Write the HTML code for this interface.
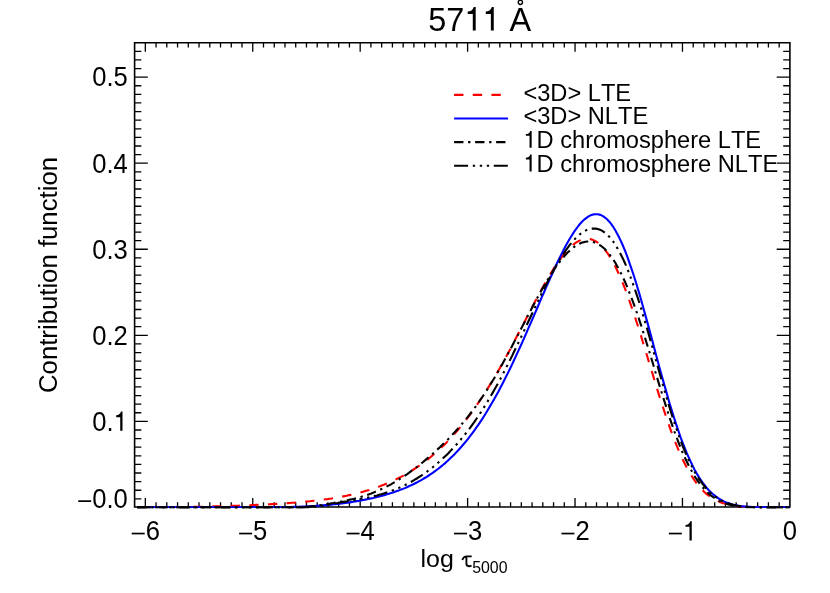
<!DOCTYPE html>
<html><head><meta charset="utf-8"><title>5711 A</title>
<style>
html,body{margin:0;padding:0;background:#fff;}
svg{display:block;will-change:transform;}
text{font-family:"Liberation Sans",sans-serif;fill:#000;font-kerning:none;}
</style></head><body>
<svg width="830" height="593" viewBox="0 0 830 593">
<rect width="830" height="593" fill="#fff"/>
<path d="M145.32 507.00v-9.00M145.32 42.80v9.00M156.06 507.00v-4.70M156.06 42.80v4.70M166.81 507.00v-4.70M166.81 42.80v4.70M177.55 507.00v-4.70M177.55 42.80v4.70M188.29 507.00v-4.70M188.29 42.80v4.70M199.03 507.00v-4.70M199.03 42.80v4.70M209.78 507.00v-4.70M209.78 42.80v4.70M220.52 507.00v-4.70M220.52 42.80v4.70M231.26 507.00v-4.70M231.26 42.80v4.70M242.01 507.00v-4.70M242.01 42.80v4.70M252.75 507.00v-9.00M252.75 42.80v9.00M263.49 507.00v-4.70M263.49 42.80v4.70M274.24 507.00v-4.70M274.24 42.80v4.70M284.98 507.00v-4.70M284.98 42.80v4.70M295.72 507.00v-4.70M295.72 42.80v4.70M306.46 507.00v-4.70M306.46 42.80v4.70M317.21 507.00v-4.70M317.21 42.80v4.70M327.95 507.00v-4.70M327.95 42.80v4.70M338.69 507.00v-4.70M338.69 42.80v4.70M349.44 507.00v-4.70M349.44 42.80v4.70M360.18 507.00v-9.00M360.18 42.80v9.00M370.92 507.00v-4.70M370.92 42.80v4.70M381.67 507.00v-4.70M381.67 42.80v4.70M392.41 507.00v-4.70M392.41 42.80v4.70M403.15 507.00v-4.70M403.15 42.80v4.70M413.89 507.00v-4.70M413.89 42.80v4.70M424.64 507.00v-4.70M424.64 42.80v4.70M435.38 507.00v-4.70M435.38 42.80v4.70M446.12 507.00v-4.70M446.12 42.80v4.70M456.87 507.00v-4.70M456.87 42.80v4.70M467.61 507.00v-9.00M467.61 42.80v9.00M478.35 507.00v-4.70M478.35 42.80v4.70M489.10 507.00v-4.70M489.10 42.80v4.70M499.84 507.00v-4.70M499.84 42.80v4.70M510.58 507.00v-4.70M510.58 42.80v4.70M521.32 507.00v-4.70M521.32 42.80v4.70M532.07 507.00v-4.70M532.07 42.80v4.70M542.81 507.00v-4.70M542.81 42.80v4.70M553.55 507.00v-4.70M553.55 42.80v4.70M564.30 507.00v-4.70M564.30 42.80v4.70M575.04 507.00v-9.00M575.04 42.80v9.00M585.78 507.00v-4.70M585.78 42.80v4.70M596.53 507.00v-4.70M596.53 42.80v4.70M607.27 507.00v-4.70M607.27 42.80v4.70M618.01 507.00v-4.70M618.01 42.80v4.70M628.75 507.00v-4.70M628.75 42.80v4.70M639.50 507.00v-4.70M639.50 42.80v4.70M650.24 507.00v-4.70M650.24 42.80v4.70M660.98 507.00v-4.70M660.98 42.80v4.70M671.73 507.00v-4.70M671.73 42.80v4.70M682.47 507.00v-9.00M682.47 42.80v9.00M693.21 507.00v-4.70M693.21 42.80v4.70M703.96 507.00v-4.70M703.96 42.80v4.70M714.70 507.00v-4.70M714.70 42.80v4.70M725.44 507.00v-4.70M725.44 42.80v4.70M736.18 507.00v-4.70M736.18 42.80v4.70M746.93 507.00v-4.70M746.93 42.80v4.70M757.67 507.00v-4.70M757.67 42.80v4.70M768.41 507.00v-4.70M768.41 42.80v4.70M779.16 507.00v-4.70M779.16 42.80v4.70M134.60 498.83h6.70M789.90 498.83h-6.70M134.60 490.23h6.70M789.90 490.23h-6.70M134.60 481.62h6.70M789.90 481.62h-6.70M134.60 473.02h6.70M789.90 473.02h-6.70M134.60 464.41h6.70M789.90 464.41h-6.70M134.60 455.80h6.70M789.90 455.80h-6.70M134.60 447.20h6.70M789.90 447.20h-6.70M134.60 438.59h6.70M789.90 438.59h-6.70M134.60 429.99h6.70M789.90 429.99h-6.70M134.60 421.38h13.20M789.90 421.38h-13.20M134.60 412.77h6.70M789.90 412.77h-6.70M134.60 404.17h6.70M789.90 404.17h-6.70M134.60 395.56h6.70M789.90 395.56h-6.70M134.60 386.96h6.70M789.90 386.96h-6.70M134.60 378.35h6.70M789.90 378.35h-6.70M134.60 369.74h6.70M789.90 369.74h-6.70M134.60 361.14h6.70M789.90 361.14h-6.70M134.60 352.53h6.70M789.90 352.53h-6.70M134.60 343.93h6.70M789.90 343.93h-6.70M134.60 335.32h13.20M789.90 335.32h-13.20M134.60 326.71h6.70M789.90 326.71h-6.70M134.60 318.11h6.70M789.90 318.11h-6.70M134.60 309.50h6.70M789.90 309.50h-6.70M134.60 300.90h6.70M789.90 300.90h-6.70M134.60 292.29h6.70M789.90 292.29h-6.70M134.60 283.68h6.70M789.90 283.68h-6.70M134.60 275.08h6.70M789.90 275.08h-6.70M134.60 266.47h6.70M789.90 266.47h-6.70M134.60 257.87h6.70M789.90 257.87h-6.70M134.60 249.26h13.20M789.90 249.26h-13.20M134.60 240.65h6.70M789.90 240.65h-6.70M134.60 232.05h6.70M789.90 232.05h-6.70M134.60 223.44h6.70M789.90 223.44h-6.70M134.60 214.84h6.70M789.90 214.84h-6.70M134.60 206.23h6.70M789.90 206.23h-6.70M134.60 197.62h6.70M789.90 197.62h-6.70M134.60 189.02h6.70M789.90 189.02h-6.70M134.60 180.41h6.70M789.90 180.41h-6.70M134.60 171.81h6.70M789.90 171.81h-6.70M134.60 163.20h13.20M789.90 163.20h-13.20M134.60 154.59h6.70M789.90 154.59h-6.70M134.60 145.99h6.70M789.90 145.99h-6.70M134.60 137.38h6.70M789.90 137.38h-6.70M134.60 128.78h6.70M789.90 128.78h-6.70M134.60 120.17h6.70M789.90 120.17h-6.70M134.60 111.56h6.70M789.90 111.56h-6.70M134.60 102.96h6.70M789.90 102.96h-6.70M134.60 94.35h6.70M789.90 94.35h-6.70M134.60 85.75h6.70M789.90 85.75h-6.70M134.60 77.14h13.20M789.90 77.14h-13.20M134.60 68.53h6.70M789.90 68.53h-6.70M134.60 59.93h6.70M789.90 59.93h-6.70M134.60 51.32h6.70M789.90 51.32h-6.70" fill="none" stroke="#000" stroke-width="1.30"/>
<path d="M134.60 42.80 H789.90 V507.00 H134.60 Z" fill="none" stroke="#000" stroke-width="1.60" stroke-linejoin="miter"/>
<clipPath id="c"><rect x="134.6" y="42.8" width="655.3" height="465.9"/></clipPath>
<clipPath id="c2"><rect x="134.6" y="42.8" width="655.3" height="465.2"/></clipPath>
<g clip-path="url(#c)" fill="none" stroke-width="2.10" stroke-linejoin="round">
<path clip-path="url(#c2)" d="M137.0 507.0 L139.0 507.1 L140.9 507.1 L142.9 507.1 L144.9 507.1 L146.9 507.2 L148.9 507.2 L150.9 507.2 L152.9 507.2 L154.8 507.2 L156.8 507.2 L158.8 507.2 L160.8 507.2 L162.8 507.2 L164.8 507.2 L166.7 507.1 L168.7 507.1 L170.7 507.1 L172.7 507.1 L174.7 507.1 L176.7 507.1 L178.7 507.1 L180.6 507.0 L182.6 507.0 L184.6 507.0 L186.6 507.0 L188.6 506.9 L190.6 506.9 L192.5 506.9 L194.5 506.8 L196.5 506.8 L198.5 506.8 L200.5 506.7 L202.5 506.7 L204.5 506.7 L206.4 506.6 L208.4 506.6 L210.4 506.5 L212.4 506.5 L214.4 506.4 L216.4 506.4 L218.3 506.3 L220.3 506.3 L222.3 506.2 L224.3 506.1 L226.3 506.1 L228.3 506.0 L230.3 505.9 L232.2 505.9 L234.2 505.8 L236.2 505.7 L238.2 505.7 L240.2 505.6 L242.2 505.5 L244.1 505.4 L246.1 505.4 L248.1 505.3 L250.1 505.2 L252.1 505.1 L254.1 505.0 L256.1 504.9 L258.0 504.8 L260.0 504.8 L262.0 504.7 L264.0 504.6 L266.0 504.5 L268.0 504.4 L269.9 504.2 L271.9 504.1 L273.9 504.0 L275.9 503.9 L277.9 503.8 L279.9 503.7 L281.9 503.5 L283.8 503.4 L285.8 503.3 L287.8 503.1 L289.8 503.0 L291.8 502.8 L293.8 502.7 L295.7 502.5 L297.7 502.4 L299.7 502.2 L301.7 502.0 L303.7 501.8 L305.7 501.6 L307.6 501.5 L309.6 501.3 L311.6 501.0 L313.6 500.8 L315.6 500.6 L317.6 500.4 L319.6 500.1 L321.5 499.9 L323.5 499.6 L325.5 499.3 L327.5 499.1 L329.5 498.8 L331.5 498.5 L333.4 498.1 L335.4 497.8 L337.4 497.5 L339.4 497.1 L341.4 496.8 L343.4 496.4 L345.4 496.0 L347.3 495.6 L349.3 495.1 L351.3 494.7 L353.3 494.3 L355.3 493.8 L357.3 493.3 L359.2 492.8 L361.2 492.3 L363.2 491.7 L365.2 491.1 L367.2 490.6 L369.2 490.0 L371.2 489.3 L373.1 488.7 L375.1 488.0 L377.1 487.3 L379.1 486.6 L381.1 485.8 L383.1 485.1 L385.0 484.3 L387.0 483.5 L389.0 482.6 L391.0 481.7 L393.0 480.8 L395.0 479.9 L397.0 478.9 L398.9 477.9 L400.9 476.9 L402.9 475.8 L404.9 474.7 L406.9 473.6 L408.9 472.4 L410.8 471.2 L412.8 470.0 L414.8 468.7 L416.8 467.4 L418.8 466.0 L420.8 464.6 L422.8 463.2 L424.7 461.7 L426.7 460.2 L428.7 458.6 L430.7 457.0 L432.7 455.3 L434.7 453.6 L436.6 451.9 L438.6 450.1 L440.6 448.2 L442.6 446.3 L444.6 444.4 L446.6 442.4 L448.6 440.3 L450.5 438.2 L452.5 436.1 L454.5 433.9 L456.5 431.6 L458.5 429.3 L460.5 426.9 L462.4 424.5 L464.4 422.0 L466.4 419.4 L468.4 416.8 L470.4 414.2 L472.4 411.4 L474.4 408.7 L476.3 405.8 L478.3 402.9 L480.3 400.0 L482.3 397.0 L484.3 393.9 L486.3 390.8 L488.2 387.6 L490.2 384.4 L492.2 381.1 L494.2 377.7 L496.2 374.4 L498.2 370.9 L500.2 367.4 L502.1 363.9 L504.1 360.3 L506.1 356.7 L508.1 353.1 L510.1 349.4 L512.1 345.6 L514.0 341.9 L516.0 338.1 L518.0 334.3 L520.0 330.5 L522.0 326.7 L524.0 322.9 L526.0 319.0 L527.9 315.2 L529.9 311.4 L531.9 307.6 L533.9 303.8 L535.9 300.0 L537.9 296.3 L539.8 292.6 L541.8 289.0 L543.8 285.4 L545.8 281.9 L547.8 278.4 L549.8 275.1 L551.8 271.8 L553.7 268.6 L555.7 265.5 L557.7 262.6 L559.7 259.8 L561.7 257.1 L563.7 254.5 L565.6 252.2 L567.6 249.9 L569.6 247.9 L571.6 246.0 L573.6 244.4 L575.6 242.9 L577.6 241.6 L579.5 240.6 L581.5 239.8 L583.5 239.2 L585.5 238.9 L587.5 238.8 L589.5 239.0 L591.4 239.4 L593.4 240.1 L595.4 241.1 L597.4 242.4 L599.4 243.9 L601.4 245.7 L603.4 247.9 L605.3 250.3 L607.3 252.9 L609.3 255.9 L611.3 259.1 L613.3 262.7 L615.3 266.5 L617.2 270.5 L619.2 274.8 L621.2 279.4 L623.2 284.2 L625.2 289.2 L627.2 294.5 L629.1 299.9 L631.1 305.6 L633.1 311.4 L635.1 317.4 L637.1 323.5 L639.1 329.7 L641.1 336.1 L643.0 342.5 L645.0 349.0 L647.0 355.5 L649.0 362.1 L651.0 368.7 L653.0 375.2 L654.9 381.7 L656.9 388.2 L658.9 394.6 L660.9 400.9 L662.9 407.0 L664.9 413.1 L666.9 419.0 L668.8 424.7 L670.8 430.3 L672.8 435.7 L674.8 440.9 L676.8 445.8 L678.8 450.6 L680.7 455.1 L682.7 459.5 L684.7 463.5 L686.7 467.4 L688.7 471.0 L690.7 474.4 L692.7 477.6 L694.6 480.5 L696.6 483.3 L698.6 485.8 L700.6 488.1 L702.6 490.2 L704.6 492.2 L706.5 493.9 L708.5 495.5 L710.5 497.0 L712.5 498.3 L714.5 499.4 L716.5 500.5 L718.5 501.4 L720.4 502.2 L722.4 502.9 L724.4 503.5 L726.4 504.1 L728.4 504.6 L730.4 505.0 L732.3 505.3 L734.3 505.7 L736.3 505.9 L738.3 506.2 L740.3 506.4 L742.3 506.5 L744.3 506.7 L746.2 506.8 L748.2 506.9 L750.2 507.0 L752.2 507.0 L754.2 507.1 L756.2 507.2 L758.1 507.2 L760.1 507.2 L762.1 507.3 L764.1 507.3 L766.1 507.3 L768.1 507.3 L770.1 507.3 L772.0 507.4 L774.0 507.4 L776.0 507.4 L778.0 507.4 L780.0 507.4 L782.0 507.4 L783.9 507.4 L785.9 507.4 L787.9 507.4 L789.9 507.4" stroke="#ff0000" stroke-dasharray="9.340 9.340" stroke-dashoffset="18.4"/>
<path clip-path="url(#c2)" d="M137.0 507.4 L139.0 507.4 L140.9 507.4 L142.9 507.4 L144.9 507.4 L146.9 507.4 L148.9 507.4 L150.9 507.4 L152.9 507.4 L154.8 507.4 L156.8 507.4 L158.8 507.4 L160.8 507.4 L162.8 507.4 L164.8 507.4 L166.7 507.4 L168.7 507.4 L170.7 507.4 L172.7 507.4 L174.7 507.4 L176.7 507.4 L178.7 507.4 L180.6 507.4 L182.6 507.4 L184.6 507.4 L186.6 507.4 L188.6 507.4 L190.6 507.4 L192.5 507.4 L194.5 507.4 L196.5 507.4 L198.5 507.4 L200.5 507.4 L202.5 507.4 L204.5 507.4 L206.4 507.4 L208.4 507.4 L210.4 507.4 L212.4 507.4 L214.4 507.4 L216.4 507.4 L218.3 507.4 L220.3 507.4 L222.3 507.4 L224.3 507.4 L226.3 507.4 L228.3 507.4 L230.3 507.4 L232.2 507.4 L234.2 507.4 L236.2 507.4 L238.2 507.4 L240.2 507.4 L242.2 507.4 L244.1 507.4 L246.1 507.4 L248.1 507.4 L250.1 507.4 L252.1 507.4 L254.1 507.4 L256.1 507.4 L258.0 507.4 L260.0 507.4 L262.0 507.4 L264.0 507.4 L266.0 507.4 L268.0 507.4 L269.9 507.3 L271.9 507.3 L273.9 507.3 L275.9 507.3 L277.9 507.3 L279.9 507.2 L281.9 507.2 L283.8 507.2 L285.8 507.1 L287.8 507.1 L289.8 507.0 L291.8 507.0 L293.8 506.9 L295.7 506.9 L297.7 506.8 L299.7 506.7 L301.7 506.6 L303.7 506.6 L305.7 506.5 L307.6 506.4 L309.6 506.3 L311.6 506.1 L313.6 506.0 L315.6 505.9 L317.6 505.7 L319.6 505.6 L321.5 505.5 L323.5 505.3 L325.5 505.1 L327.5 504.9 L329.5 504.8 L331.5 504.6 L333.4 504.3 L335.4 504.1 L337.4 503.9 L339.4 503.7 L341.4 503.4 L343.4 503.2 L345.4 502.9 L347.3 502.6 L349.3 502.4 L351.3 502.1 L353.3 501.8 L355.3 501.4 L357.3 501.1 L359.2 500.8 L361.2 500.4 L363.2 500.0 L365.2 499.6 L367.2 499.2 L369.2 498.8 L371.2 498.4 L373.1 498.0 L375.1 497.5 L377.1 497.0 L379.1 496.5 L381.1 496.0 L383.1 495.5 L385.0 494.9 L387.0 494.3 L389.0 493.7 L391.0 493.1 L393.0 492.5 L395.0 491.8 L397.0 491.1 L398.9 490.4 L400.9 489.6 L402.9 488.9 L404.9 488.1 L406.9 487.2 L408.9 486.3 L410.8 485.4 L412.8 484.5 L414.8 483.5 L416.8 482.5 L418.8 481.4 L420.8 480.3 L422.8 479.2 L424.7 478.0 L426.7 476.8 L428.7 475.5 L430.7 474.2 L432.7 472.9 L434.7 471.4 L436.6 470.0 L438.6 468.5 L440.6 466.9 L442.6 465.2 L444.6 463.6 L446.6 461.8 L448.6 460.0 L450.5 458.1 L452.5 456.2 L454.5 454.2 L456.5 452.1 L458.5 450.0 L460.5 447.8 L462.4 445.5 L464.4 443.2 L466.4 440.8 L468.4 438.3 L470.4 435.7 L472.4 433.1 L474.4 430.4 L476.3 427.6 L478.3 424.8 L480.3 421.8 L482.3 418.8 L484.3 415.7 L486.3 412.5 L488.2 409.3 L490.2 405.9 L492.2 402.5 L494.2 399.1 L496.2 395.5 L498.2 391.9 L500.2 388.1 L502.1 384.4 L504.1 380.5 L506.1 376.6 L508.1 372.6 L510.1 368.5 L512.1 364.4 L514.0 360.2 L516.0 355.9 L518.0 351.6 L520.0 347.3 L522.0 342.9 L524.0 338.4 L526.0 333.9 L527.9 329.4 L529.9 324.9 L531.9 320.3 L533.9 315.7 L535.9 311.1 L537.9 306.5 L539.8 301.8 L541.8 297.2 L543.8 292.7 L545.8 288.1 L547.8 283.6 L549.8 279.1 L551.8 274.7 L553.7 270.3 L555.7 266.0 L557.7 261.8 L559.7 257.7 L561.7 253.7 L563.7 249.8 L565.6 246.1 L567.6 242.5 L569.6 239.0 L571.6 235.7 L573.6 232.6 L575.6 229.7 L577.6 227.0 L579.5 224.5 L581.5 222.3 L583.5 220.3 L585.5 218.6 L587.5 217.1 L589.5 215.9 L591.4 215.0 L593.4 214.4 L595.4 214.2 L597.4 214.2 L599.4 214.6 L601.4 215.3 L603.4 216.4 L605.3 217.8 L607.3 219.5 L609.3 221.7 L611.3 224.1 L613.3 227.0 L615.3 230.2 L617.2 233.7 L619.2 237.6 L621.2 241.8 L623.2 246.3 L625.2 251.2 L627.2 256.4 L629.1 261.8 L631.1 267.6 L633.1 273.5 L635.1 279.8 L637.1 286.2 L639.1 292.9 L641.1 299.7 L643.0 306.7 L645.0 313.9 L647.0 321.1 L649.0 328.4 L651.0 335.8 L653.0 343.2 L654.9 350.6 L656.9 358.0 L658.9 365.4 L660.9 372.7 L662.9 379.9 L664.9 386.9 L666.9 393.9 L668.8 400.7 L670.8 407.4 L672.8 413.8 L674.8 420.1 L676.8 426.1 L678.8 432.0 L680.7 437.6 L682.7 442.9 L684.7 448.0 L686.7 452.9 L688.7 457.4 L690.7 461.8 L692.7 465.9 L694.6 469.7 L696.6 473.3 L698.6 476.6 L700.6 479.7 L702.6 482.6 L704.6 485.2 L706.5 487.7 L708.5 489.9 L710.5 491.9 L712.5 493.8 L714.5 495.4 L716.5 497.0 L718.5 498.3 L720.4 499.5 L722.4 500.6 L724.4 501.6 L726.4 502.4 L728.4 503.1 L730.4 503.8 L732.3 504.4 L734.3 504.9 L736.3 505.3 L738.3 505.7 L740.3 506.0 L742.3 506.2 L744.3 506.5 L746.2 506.6 L748.2 506.8 L750.2 506.9 L752.2 507.0 L754.2 507.1 L756.2 507.2 L758.1 507.2 L760.1 507.3 L762.1 507.3 L764.1 507.4 L766.1 507.4 L768.1 507.4 L770.1 507.4 L772.0 507.4 L774.0 507.4 L776.0 507.4 L778.0 507.4 L780.0 507.4 L782.0 507.4 L783.9 507.4 L785.9 507.4 L787.9 507.4 L789.9 507.4" stroke="#0000ff"/>
<path d="M137.0 507.4 L139.0 507.4 L140.9 507.4 L142.9 507.4 L144.9 507.4 L146.9 507.4 L148.9 507.4 L150.9 507.4 L152.9 507.4 L154.8 507.4 L156.8 507.4 L158.8 507.4 L160.8 507.4 L162.8 507.4 L164.8 507.4 L166.7 507.4 L168.7 507.4 L170.7 507.4 L172.7 507.4 L174.7 507.4 L176.7 507.4 L178.7 507.4 L180.6 507.4 L182.6 507.4 L184.6 507.4 L186.6 507.4 L188.6 507.4 L190.6 507.4 L192.5 507.4 L194.5 507.4 L196.5 507.4 L198.5 507.4 L200.5 507.4 L202.5 507.4 L204.5 507.4 L206.4 507.4 L208.4 507.4 L210.4 507.4 L212.4 507.4 L214.4 507.4 L216.4 507.4 L218.3 507.4 L220.3 507.4 L222.3 507.4 L224.3 507.4 L226.3 507.4 L228.3 507.4 L230.3 507.4 L232.2 507.4 L234.2 507.4 L236.2 507.4 L238.2 507.4 L240.2 507.4 L242.2 507.4 L244.1 507.4 L246.1 507.4 L248.1 507.4 L250.1 507.4 L252.1 507.4 L254.1 507.4 L256.1 507.4 L258.0 507.4 L260.0 507.4 L262.0 507.4 L264.0 507.4 L266.0 507.4 L268.0 507.4 L269.9 507.4 L271.9 507.4 L273.9 507.4 L275.9 507.4 L277.9 507.4 L279.9 507.4 L281.9 507.4 L283.8 507.4 L285.8 507.4 L287.8 507.4 L289.8 507.4 L291.8 507.4 L293.8 507.4 L295.7 507.4 L297.7 507.3 L299.7 507.3 L301.7 507.2 L303.7 507.1 L305.7 506.9 L307.6 506.8 L309.6 506.6 L311.6 506.4 L313.6 506.1 L315.6 505.9 L317.6 505.6 L319.6 505.3 L321.5 505.0 L323.5 504.7 L325.5 504.4 L327.5 504.0 L329.5 503.7 L331.5 503.3 L333.4 503.0 L335.4 502.6 L337.4 502.3 L339.4 501.9 L341.4 501.5 L343.4 501.1 L345.4 500.7 L347.3 500.3 L349.3 499.8 L351.3 499.4 L353.3 498.9 L355.3 498.4 L357.3 497.9 L359.2 497.3 L361.2 496.8 L363.2 496.2 L365.2 495.5 L367.2 494.9 L369.2 494.2 L371.2 493.5 L373.1 492.7 L375.1 491.9 L377.1 491.1 L379.1 490.2 L381.1 489.3 L383.1 488.4 L385.0 487.4 L387.0 486.4 L389.0 485.4 L391.0 484.3 L393.0 483.1 L395.0 482.0 L397.0 480.8 L398.9 479.5 L400.9 478.3 L402.9 477.0 L404.9 475.6 L406.9 474.3 L408.9 472.9 L410.8 471.4 L412.8 470.0 L414.8 468.5 L416.8 467.0 L418.8 465.4 L420.8 463.8 L422.8 462.2 L424.7 460.6 L426.7 458.9 L428.7 457.2 L430.7 455.5 L432.7 453.8 L434.7 452.0 L436.6 450.2 L438.6 448.4 L440.6 446.5 L442.6 444.6 L444.6 442.6 L446.6 440.7 L448.6 438.7 L450.5 436.6 L452.5 434.5 L454.5 432.4 L456.5 430.2 L458.5 428.0 L460.5 425.7 L462.4 423.4 L464.4 421.0 L466.4 418.6 L468.4 416.1 L470.4 413.5 L472.4 410.9 L474.4 408.3 L476.3 405.5 L478.3 402.7 L480.3 399.9 L482.3 397.0 L484.3 394.0 L486.3 391.0 L488.2 387.9 L490.2 384.7 L492.2 381.5 L494.2 378.2 L496.2 374.8 L498.2 371.4 L500.2 367.9 L502.1 364.4 L504.1 360.8 L506.1 357.2 L508.1 353.6 L510.1 349.9 L512.1 346.1 L514.0 342.3 L516.0 338.5 L518.0 334.7 L520.0 330.9 L522.0 327.1 L524.0 323.2 L526.0 319.4 L527.9 315.6 L529.9 311.8 L531.9 308.0 L533.9 304.2 L535.9 300.5 L537.9 296.8 L539.8 293.2 L541.8 289.7 L543.8 286.2 L545.8 282.8 L547.8 279.5 L549.8 276.3 L551.8 273.2 L553.7 270.1 L555.7 267.2 L557.7 264.5 L559.7 261.8 L561.7 259.3 L563.7 256.9 L565.6 254.7 L567.6 252.6 L569.6 250.7 L571.6 248.9 L573.6 247.3 L575.6 245.9 L577.6 244.7 L579.5 243.7 L581.5 242.8 L583.5 242.2 L585.5 241.8 L587.5 241.5 L589.5 241.5 L591.4 241.7 L593.4 242.1 L595.4 242.8 L597.4 243.7 L599.4 244.8 L601.4 246.2 L603.4 247.8 L605.3 249.6 L607.3 251.8 L609.3 254.1 L611.3 256.7 L613.3 259.6 L615.3 262.8 L617.2 266.2 L619.2 269.8 L621.2 273.7 L623.2 277.9 L625.2 282.3 L627.2 286.9 L629.1 291.8 L631.1 296.9 L633.1 302.2 L635.1 307.7 L637.1 313.4 L639.1 319.3 L641.1 325.3 L643.0 331.5 L645.0 337.8 L647.0 344.2 L649.0 350.7 L651.0 357.2 L653.0 363.8 L654.9 370.4 L656.9 377.0 L658.9 383.6 L660.9 390.1 L662.9 396.5 L664.9 402.9 L666.9 409.1 L668.8 415.2 L670.8 421.2 L672.8 426.9 L674.8 432.5 L676.8 437.9 L678.8 443.1 L680.7 448.0 L682.7 452.8 L684.7 457.3 L686.7 461.5 L688.7 465.5 L690.7 469.3 L692.7 472.9 L694.6 476.2 L696.6 479.3 L698.6 482.1 L700.6 484.8 L702.6 487.2 L704.6 489.5 L706.5 491.5 L708.5 493.4 L710.5 495.1 L712.5 496.6 L714.5 498.0 L716.5 499.3 L718.5 500.4 L720.4 501.4 L722.4 502.3 L724.4 503.1 L726.4 503.8 L728.4 504.4 L730.4 504.9 L732.3 505.4 L734.3 505.8 L736.3 506.1 L738.3 506.4 L740.3 506.6 L742.3 506.8 L744.3 506.9 L746.2 507.1 L748.2 507.2 L750.2 507.2 L752.2 507.3 L754.2 507.3 L756.2 507.4 L758.1 507.4 L760.1 507.4 L762.1 507.4 L764.1 507.4 L766.1 507.4 L768.1 507.4 L770.1 507.4 L772.0 507.4 L774.0 507.4 L776.0 507.4 L778.0 507.4 L780.0 507.4 L782.0 507.4 L783.9 507.4 L785.9 507.4 L787.9 507.4 L789.9 507.4" stroke="#000" stroke-dasharray="9.340 4.670 2.335 4.670" stroke-dashoffset="20.7"/>
<path d="M137.0 507.4 L139.0 507.4 L140.9 507.4 L142.9 507.4 L144.9 507.4 L146.9 507.4 L148.9 507.4 L150.9 507.4 L152.9 507.4 L154.8 507.4 L156.8 507.4 L158.8 507.4 L160.8 507.4 L162.8 507.4 L164.8 507.4 L166.7 507.4 L168.7 507.4 L170.7 507.4 L172.7 507.4 L174.7 507.4 L176.7 507.4 L178.7 507.4 L180.6 507.4 L182.6 507.4 L184.6 507.4 L186.6 507.4 L188.6 507.4 L190.6 507.4 L192.5 507.4 L194.5 507.4 L196.5 507.4 L198.5 507.4 L200.5 507.4 L202.5 507.4 L204.5 507.4 L206.4 507.4 L208.4 507.4 L210.4 507.4 L212.4 507.4 L214.4 507.4 L216.4 507.4 L218.3 507.4 L220.3 507.4 L222.3 507.4 L224.3 507.4 L226.3 507.4 L228.3 507.4 L230.3 507.4 L232.2 507.4 L234.2 507.4 L236.2 507.4 L238.2 507.4 L240.2 507.4 L242.2 507.4 L244.1 507.4 L246.1 507.4 L248.1 507.4 L250.1 507.4 L252.1 507.4 L254.1 507.4 L256.1 507.4 L258.0 507.4 L260.0 507.4 L262.0 507.4 L264.0 507.4 L266.0 507.4 L268.0 507.4 L269.9 507.4 L271.9 507.4 L273.9 507.4 L275.9 507.4 L277.9 507.4 L279.9 507.4 L281.9 507.4 L283.8 507.4 L285.8 507.4 L287.8 507.4 L289.8 507.4 L291.8 507.4 L293.8 507.4 L295.7 507.4 L297.7 507.4 L299.7 507.4 L301.7 507.4 L303.7 507.4 L305.7 507.3 L307.6 507.2 L309.6 507.1 L311.6 507.0 L313.6 506.8 L315.6 506.6 L317.6 506.4 L319.6 506.1 L321.5 505.8 L323.5 505.5 L325.5 505.2 L327.5 504.8 L329.5 504.4 L331.5 504.1 L333.4 503.7 L335.4 503.3 L337.4 503.0 L339.4 502.6 L341.4 502.3 L343.4 501.9 L345.4 501.6 L347.3 501.3 L349.3 500.9 L351.3 500.6 L353.3 500.2 L355.3 499.9 L357.3 499.6 L359.2 499.2 L361.2 498.8 L363.2 498.5 L365.2 498.1 L367.2 497.7 L369.2 497.2 L371.2 496.8 L373.1 496.3 L375.1 495.9 L377.1 495.4 L379.1 494.8 L381.1 494.3 L383.1 493.7 L385.0 493.1 L387.0 492.4 L389.0 491.8 L391.0 491.0 L393.0 490.3 L395.0 489.5 L397.0 488.7 L398.9 487.9 L400.9 487.0 L402.9 486.1 L404.9 485.1 L406.9 484.1 L408.9 483.1 L410.8 482.0 L412.8 480.9 L414.8 479.7 L416.8 478.5 L418.8 477.2 L420.8 476.0 L422.8 474.6 L424.7 473.2 L426.7 471.8 L428.7 470.3 L430.7 468.8 L432.7 467.3 L434.7 465.7 L436.6 464.0 L438.6 462.3 L440.6 460.5 L442.6 458.7 L444.6 456.8 L446.6 454.9 L448.6 453.0 L450.5 450.9 L452.5 448.8 L454.5 446.7 L456.5 444.5 L458.5 442.2 L460.5 439.9 L462.4 437.5 L464.4 435.1 L466.4 432.6 L468.4 430.0 L470.4 427.4 L472.4 424.6 L474.4 421.9 L476.3 419.0 L478.3 416.1 L480.3 413.1 L482.3 410.0 L484.3 406.9 L486.3 403.7 L488.2 400.4 L490.2 397.0 L492.2 393.6 L494.2 390.1 L496.2 386.6 L498.2 382.9 L500.2 379.2 L502.1 375.5 L504.1 371.7 L506.1 367.8 L508.1 363.9 L510.1 359.9 L512.1 355.9 L514.0 351.8 L516.0 347.7 L518.0 343.5 L520.0 339.4 L522.0 335.2 L524.0 330.9 L526.0 326.7 L527.9 322.5 L529.9 318.2 L531.9 314.0 L533.9 309.8 L535.9 305.6 L537.9 301.4 L539.8 297.3 L541.8 293.2 L543.8 289.2 L545.8 285.2 L547.8 281.3 L549.8 277.5 L551.8 273.8 L553.7 270.1 L555.7 266.6 L557.7 263.1 L559.7 259.8 L561.7 256.6 L563.7 253.5 L565.6 250.6 L567.6 247.8 L569.6 245.2 L571.6 242.7 L573.6 240.4 L575.6 238.3 L577.6 236.3 L579.5 234.6 L581.5 233.1 L583.5 231.7 L585.5 230.6 L587.5 229.7 L589.5 229.1 L591.4 228.7 L593.4 228.5 L595.4 228.6 L597.4 228.9 L599.4 229.5 L601.4 230.4 L603.4 231.6 L605.3 233.0 L607.3 234.8 L609.3 236.8 L611.3 239.1 L613.3 241.7 L615.3 244.7 L617.2 247.9 L619.2 251.4 L621.2 255.2 L623.2 259.3 L625.2 263.7 L627.2 268.4 L629.1 273.4 L631.1 278.6 L633.1 284.1 L635.1 289.8 L637.1 295.8 L639.1 302.0 L641.1 308.3 L643.0 314.9 L645.0 321.5 L647.0 328.4 L649.0 335.3 L651.0 342.3 L653.0 349.4 L654.9 356.5 L656.9 363.6 L658.9 370.7 L660.9 377.7 L662.9 384.7 L664.9 391.6 L666.9 398.4 L668.8 405.0 L670.8 411.5 L672.8 417.8 L674.8 423.8 L676.8 429.7 L678.8 435.4 L680.7 440.8 L682.7 446.0 L684.7 450.9 L686.7 455.6 L688.7 460.0 L690.7 464.1 L692.7 468.0 L694.6 471.7 L696.6 475.1 L698.6 478.3 L700.6 481.2 L702.6 483.9 L704.6 486.4 L706.5 488.7 L708.5 490.8 L710.5 492.7 L712.5 494.4 L714.5 496.0 L716.5 497.4 L718.5 498.7 L720.4 499.9 L722.4 500.9 L724.4 501.8 L726.4 502.6 L728.4 503.4 L730.4 504.0 L732.3 504.6 L734.3 505.0 L736.3 505.5 L738.3 505.8 L740.3 506.1 L742.3 506.4 L744.3 506.6 L746.2 506.8 L748.2 507.0 L750.2 507.1 L752.2 507.2 L754.2 507.2 L756.2 507.3 L758.1 507.3 L760.1 507.4 L762.1 507.4 L764.1 507.4 L766.1 507.4 L768.1 507.4 L770.1 507.4 L772.0 507.4 L774.0 507.4 L776.0 507.4 L778.0 507.4 L780.0 507.4 L782.0 507.4 L783.9 507.4 L785.9 507.4 L787.9 507.4 L789.9 507.4" stroke="#000" stroke-dasharray="14.010 4.670 2.335 4.670 2.335 4.670 2.335 4.670" stroke-dashoffset="0.3"/>
</g>
<rect x="131.72" y="532.69" width="12.96" height="1.70" fill="#000"/>
<text transform="translate(145.68 540.40) scale(0.9850 1.0450)" font-size="26.00" text-anchor="start" xml:space="preserve">6</text>
<rect x="239.15" y="532.69" width="12.96" height="1.70" fill="#000"/>
<text transform="translate(253.11 540.40) scale(0.9850 1.0450)" font-size="26.00" text-anchor="start" xml:space="preserve">5</text>
<rect x="346.58" y="532.69" width="12.96" height="1.70" fill="#000"/>
<text transform="translate(360.54 540.40) scale(0.9850 1.0450)" font-size="26.00" text-anchor="start" xml:space="preserve">4</text>
<rect x="454.01" y="532.69" width="12.96" height="1.70" fill="#000"/>
<text transform="translate(467.97 540.40) scale(0.9850 1.0450)" font-size="26.00" text-anchor="start" xml:space="preserve">3</text>
<rect x="561.44" y="532.69" width="12.96" height="1.70" fill="#000"/>
<text transform="translate(575.40 540.40) scale(0.9850 1.0450)" font-size="26.00" text-anchor="start" xml:space="preserve">2</text>
<rect x="668.87" y="532.69" width="12.96" height="1.70" fill="#000"/>
<path d="M689.49 540.40L689.49 526.87L685.49 526.87L685.49 524.89C687.69 524.78 689.54 523.83 690.26 521.25L691.77 521.25L691.77 540.40Z" fill="#000"/>
<text transform="translate(789.90 540.40) scale(0.9850 1.0450)" font-size="26.00" text-anchor="middle" xml:space="preserve">0</text>
<text transform="translate(92.20 430.68) scale(0.9850 1.0450)" font-size="26.00" text-anchor="start" xml:space="preserve">0.</text>
<path d="M120.22 430.68L120.22 417.15L116.22 417.15L116.22 415.17C118.43 415.06 120.27 414.11 120.99 411.53L122.50 411.53L122.50 430.68Z" fill="#000"/>
<text transform="translate(127.80 344.62) scale(0.9850 1.0450)" font-size="26.00" text-anchor="end" xml:space="preserve">0.2</text>
<text transform="translate(127.80 258.56) scale(0.9850 1.0450)" font-size="26.00" text-anchor="end" xml:space="preserve">0.3</text>
<text transform="translate(127.80 172.50) scale(0.9850 1.0450)" font-size="26.00" text-anchor="end" xml:space="preserve">0.4</text>
<text transform="translate(127.80 86.44) scale(0.9850 1.0450)" font-size="26.00" text-anchor="end" xml:space="preserve">0.5</text>
<rect x="78.24" y="500.29" width="12.96" height="1.70" fill="#000"/>
<text transform="translate(92.20 508.00) scale(0.9850 1.0450)" font-size="26.00" text-anchor="start" xml:space="preserve">0.0</text>
<text transform="translate(57.40 275.00) rotate(-90) scale(0.9900 0.9600)" font-size="26.00" text-anchor="middle" xml:space="preserve">Contribution function</text>
<text transform="translate(420.50 567.20) scale(0.9600 0.9550)" font-size="26.00" text-anchor="start" xml:space="preserve">log</text>
<path d="M462.3 560.0 Q463.5 556.4 466.8 556.4 H471.7 M466.4 556.6 V563.6 Q466.4 566.2 468.9 566.2 Q470.3 566.2 471.5 565.4" fill="none" stroke="#000" stroke-width="1.85"/>
<text transform="translate(472.20 572.90) scale(0.9850 1.0000)" font-size="16.10" text-anchor="start" xml:space="preserve">5000</text>
<text transform="translate(428.20 30.50) scale(1.0000 1.0250)" font-size="32.50" text-anchor="start" xml:space="preserve">57</text>
<path d="M472.79 30.50L472.79 13.91L467.72 13.91L467.72 11.48C470.52 11.35 472.86 10.18 473.77 7.01L475.69 7.01L475.69 30.50Z" fill="#000"/>
<path d="M490.86 30.50L490.86 13.91L485.79 13.91L485.79 11.48C488.59 11.35 490.93 10.18 491.84 7.01L493.76 7.01L493.76 30.50Z" fill="#000"/>
<text transform="translate(500.48 30.50) scale(1.0000 1.0250)" font-size="32.50" text-anchor="start" xml:space="preserve"> A</text>
<circle cx="520.36" cy="2.35" r="2.15" fill="none" stroke="#000" stroke-width="1.35"/>
<g fill="none" stroke-width="2.10">
<path d="M454.1 94.9H508.0" stroke="#ff0000" stroke-dasharray="9.340 9.340"/>
<path d="M454.1 118.5H508.0" stroke="#0000ff"/>
<path d="M454.1 142.1H508.0" stroke="#000" stroke-dasharray="9.340 4.670 2.335 4.670"/>
<path d="M454.1 165.7H508.0" stroke="#000" stroke-dasharray="14.010 4.670 2.335 4.670 2.335 4.670 2.335 4.670"/>
</g>
<text transform="translate(523.40 100.60) scale(1.0105 1.0250)" font-size="23.40" text-anchor="start" xml:space="preserve">&lt;3D&gt; LTE</text>
<text transform="translate(523.40 124.20) scale(1.0105 1.0250)" font-size="23.40" text-anchor="start" xml:space="preserve">&lt;3D&gt; NLTE</text>
<path d="M529.55 147.80L529.55 135.86L525.86 135.86L525.86 134.10C527.89 134.01 529.60 133.17 530.26 130.89L531.65 130.89L531.65 147.80Z" fill="#000"/>
<text transform="translate(536.55 147.80) scale(1.0105 1.0250)" font-size="23.40" text-anchor="start" xml:space="preserve">D chromosphere LTE</text>
<path d="M529.55 171.50L529.55 159.56L525.86 159.56L525.86 157.80C527.89 157.71 529.60 156.87 530.26 154.59L531.65 154.59L531.65 171.50Z" fill="#000"/>
<text transform="translate(536.55 171.50) scale(1.0105 1.0250)" font-size="23.40" text-anchor="start" xml:space="preserve">D chromosphere NLTE</text>
</svg>
</body></html>
